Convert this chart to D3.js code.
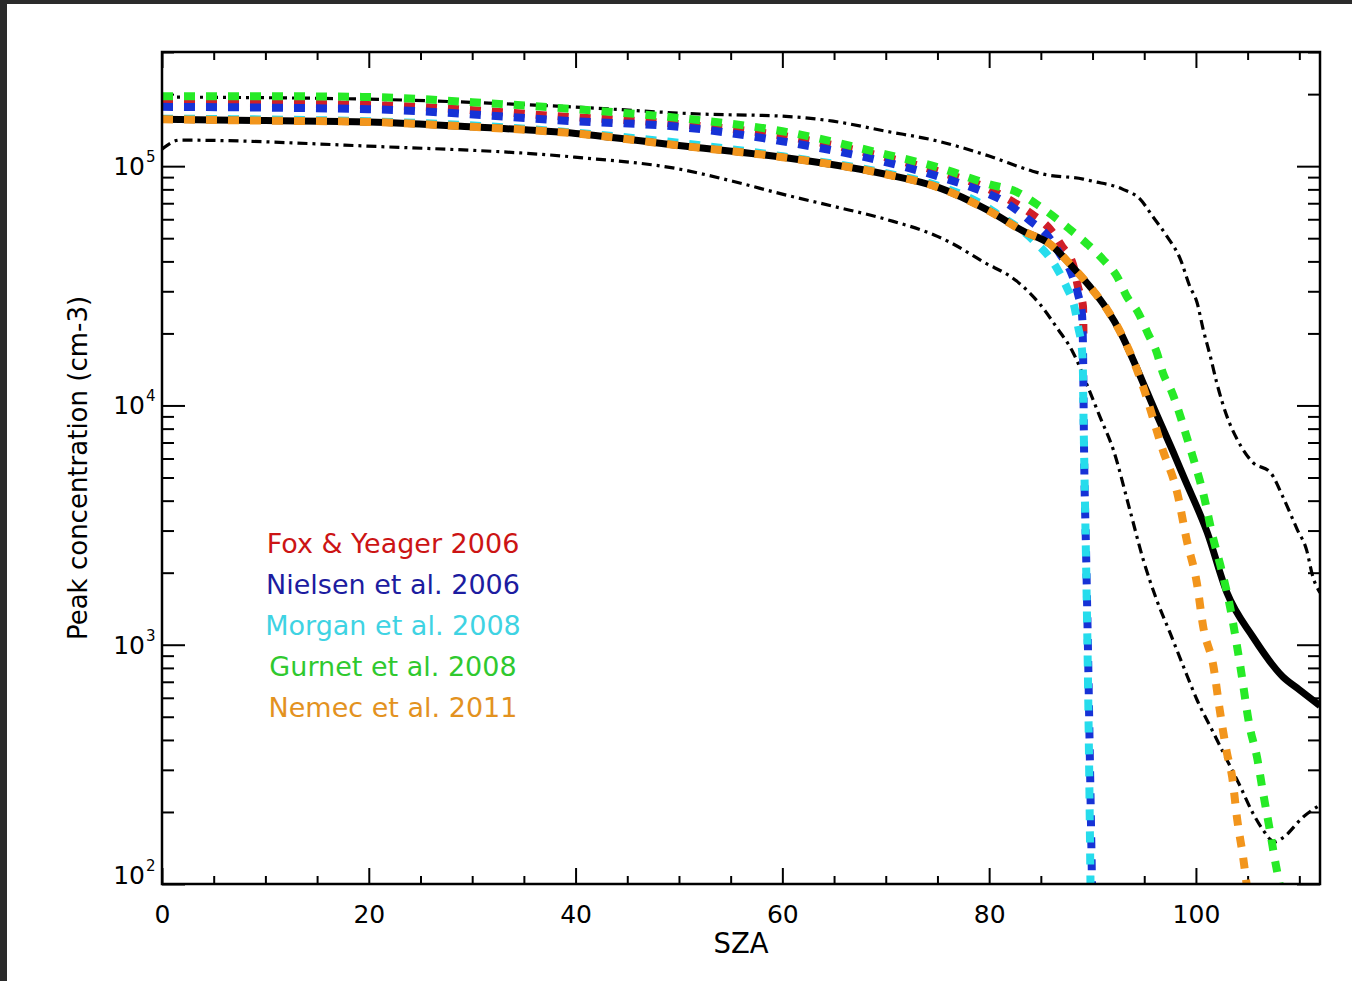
<!DOCTYPE html>
<html><head><meta charset="utf-8">
<script src="https://cdn.jsdelivr.net/npm/d3@7"></script>
<style>
body{margin:0;background:#2b2b2b;}
svg{display:block;}
text{font-family:"DejaVu Sans","Liberation Sans",sans-serif;fill:#000;}
</style>
</head><body>
<svg id="chart" width="1352" height="981"></svg>
<script>
// ---------------- data ----------------
const xMajorTicks = [0, 20, 40, 60, 80, 100];
const xMinorTicks = [5, 10, 15, 25, 30, 35, 45, 50, 55, 65, 70, 75, 85, 90, 95, 105, 110];
const yDecadeTicks = [100, 1000, 10000, 100000];
const yDecadeExponents = ["2", "3", "4", "5"];
const xTitle = "SZA";
const yTitle = "Peak concentration (cm-3)";

// upper envelope (dash-dot)
const szaUpper = [0,20,40,52,60,64.9,70,75,80,84.2,85.2,89.1,90,92.9,94.6,95.8,97.2,98.5,99.4,100.1,100.7,101.4,102,103,104,105.5,107.2,108.4,109.8,110.7,111.3,112];
const nUpper = [194500,190500,176600,165200,161800,154200,140000,127400,110200,95300,92700,88300,86500,80200,72800,61800,50900,40800,31500,27000,20800,16000,12500,9000,7200,5780,5250,4160,3030,2490,1930,1650];

// lower envelope (dash-dot)
const szaLower = [0,1.7,19.9,39.9,50.1,55.2,60,64.9,70,75,76.2,79.4,82.7,84.9,86.6,88.1,89.5,90.7,92.0,93.6,94.9,96.2,97.5,98.8,100.1,101.7,103.0,104.3,105.5,106.5,107.6,108.4,110.4,112];
const nLower = [117800,128500,121300,109100,97100,86500,76400,68000,60000,50900,48100,39900,33000,26500,21000,16700,12100,9000,6550,3670,2270,1540,1120,809,589,428,330,255,198,168,150,156,191,214];

// observed median (solid black)
const szaMedian = [0,10,20,30,40,50,60,70,75,80,83.3,85.9,88.1,89.8,91.4,92.7,93.9,95.3,96.0,98.0,98.8,101.1,103.0,105.5,108.4,110.0,112];
const nMedian = [157000,155000,153000,146000,137000,122000,109000,92500,81700,65000,53500,47200,37800,31200,25200,20200,15600,11300,9600,6100,5050,2940,1650,1080,735,649,556];

// Fox & Yeager 2006
const szaFox = [0,20,40,50,60,70,75,80,82.7,84.15,85.9,87.05,88.1,88.6,89.08,89.12];
const nFox = [184000,180000,160000,150000,134000,109000,95300,80200,69300,63000,54500,46200,38900,31200,25900,20000];

// Nielsen et al. 2006
const szaNielsen = [0,20,40,50,60,70,75,80,81.05,84.0,85.7,86.85,88.0,88.6,88.98,89.08,89.13,89.18,89.37,89.56,89.76,89.95];
const nNielsen = [177000,173000,154000,146000,127000,104000,90800,76400,72800,58900,50900,42900,35300,29100,24000,17100,10600,6550,2500,953,300,100];

// Morgan et al. 2008
const szaMorgan = [0,20,40,60,70,75,80,80.8,83.95,86.6,87.5,88.3,88.6,89.0,89.08,89.1,89.18,89.37,89.56,89.71,89.8];
const nMorgan = [158000,154000,138000,110000,93500,83000,66500,63000,50500,37100,31200,25200,21400,16700,13200,10900,6550,2270,714,224,100];

// Gurnet et al. 2008
const szaGurnet = [0,10,20,30,40,50,60,70,75,80,82.7,84.6,87.8,89.5,91.0,92.4,93.3,94.4,95.4,96.2,96.8,97.7,98.5,99.1,99.7,100.7,101.7,102.3,103.3,104.3,105.2,105.9,106.5,107.2,107.7,108.1];
const nGurnet = [196000,196000,194600,185000,173000,159000,140000,112000,99000,84000,77900,69300,54500,47200,40800,34400,28600,24500,19800,16700,13700,11300,9000,7400,6100,4300,2750,2200,1440,809,454,340,240,163,122,100];

// Nemec et al. 2011
const szaNemec = [0,10,20,30,40,50,60,70,75,80,83.3,85.9,88.1,89.8,91.4,92.7,93.9,94.8,96.8,98.2,99.1,100.1,100.7,101.7,102.3,103.0,103.5,104.0,104.6,104.9];
const nNemec = [157000,155000,153000,146000,137000,122000,109000,92500,81700,65000,53500,47200,37800,31200,25200,20200,15600,12300,6500,4300,2750,1800,1190,809,535,353,281,185,126,100];

const legendNames = ["Fox & Yeager 2006","Nielsen et al. 2006","Morgan et al. 2008","Gurnet et al. 2008","Nemec et al. 2011"];
const legendColors = ["#cc1414","#1c1ca0","#3fd3e3","#2fc92f","#e3921f"];
const lineColors = { fox:"#d01e28", nielsen:"#1632d6", morgan:"#26dcec", gurnet:"#26ea26", nemec:"#f2951c" };

// ---------------- layout ----------------
const svg = d3.select("#chart");
const L = 162, R = 1320, T = 52, B = 884;

svg.append("rect").attr("x",0).attr("y",0).attr("width",1352).attr("height",981).attr("fill","#2b2b2b");
svg.append("rect").attr("x",7).attr("y",4).attr("width",1345).attr("height",977).attr("fill","#ffffff");

const x = d3.scaleLinear().domain([0,112]).range([L,R]);
const y = d3.scaleLog().domain([100,3e5]).range([B,T]);

svg.append("defs").append("clipPath").attr("id","plotclip")
  .append("rect").attr("x",L).attr("y",T).attr("width",R-L).attr("height",B-T);

const yMinor = [];
yDecadeTicks.forEach(d => { for (let k=2;k<=9;k++){ const v=d*k; if (v<=3e5) yMinor.push(v);} });

function styleAxis(g){
  g.select(".domain").remove();
  g.selectAll(".tick line").attr("stroke","#000").attr("stroke-width",2);
}

// bottom
svg.append("g").attr("transform",`translate(0,${B})`)
  .call(d3.axisBottom(x).tickValues(xMinorTicks).tickSizeInner(-8).tickSizeOuter(0).tickFormat(""))
  .call(styleAxis);
const bx = svg.append("g").attr("transform",`translate(0,${B})`)
  .call(d3.axisBottom(x).tickValues(xMajorTicks).tickSizeInner(-16).tickSizeOuter(0).tickPadding(21).tickFormat(d3.format("d")))
  .call(styleAxis);
bx.selectAll(".tick text").attr("font-size",25).attr("font-family","DejaVu Sans").attr("fill","#000");

// top
svg.append("g").attr("transform",`translate(0,${T})`)
  .call(d3.axisTop(x).tickValues(xMinorTicks).tickSizeInner(-8).tickSizeOuter(0).tickFormat(""))
  .call(styleAxis);
svg.append("g").attr("transform",`translate(0,${T})`)
  .call(d3.axisTop(x).tickValues(xMajorTicks).tickSizeInner(-16).tickSizeOuter(0).tickFormat(""))
  .call(styleAxis);

// left
svg.append("g").attr("transform",`translate(${L},0)`)
  .call(d3.axisLeft(y).tickValues(yMinor).tickSizeInner(-12).tickSizeOuter(0).tickFormat(""))
  .call(styleAxis);
svg.append("g").attr("transform",`translate(${L},0)`)
  .call(d3.axisLeft(y).tickValues(yDecadeTicks).tickSizeInner(-23).tickSizeOuter(0).tickFormat(""))
  .call(styleAxis);
// right
svg.append("g").attr("transform",`translate(${R},0)`)
  .call(d3.axisRight(y).tickValues(yMinor).tickSizeInner(-12).tickSizeOuter(0).tickFormat(""))
  .call(styleAxis);
svg.append("g").attr("transform",`translate(${R},0)`)
  .call(d3.axisRight(y).tickValues(yDecadeTicks).tickSizeInner(-23).tickSizeOuter(0).tickFormat(""))
  .call(styleAxis);

// y tick labels with superscript exponents
yDecadeTicks.forEach((v,i) => {
  const yy = Math.min(y(v), B-9);
  svg.append("text").attr("x",L-17).attr("y",yy+9).attr("text-anchor","end")
    .attr("font-size",25).text("10");
  svg.append("text").attr("x",L-16).attr("y",yy-4).attr("text-anchor","start")
    .attr("font-size",15).text(yDecadeExponents[i]);
});

// titles
svg.append("text").attr("x",(L+R)/2).attr("y",953).attr("text-anchor","middle")
  .attr("font-size",27.5).text(xTitle);
svg.append("text").attr("transform",`translate(87,${(T+B)/2}) rotate(-90)`).attr("text-anchor","middle")
  .attr("font-size",26).text(yTitle);

// ---------------- lines ----------------
const plot = svg.append("g").attr("clip-path","url(#plotclip)");
const line = d3.line().x(d=>x(d[0])).y(d=>y(d[1])).curve(d3.curveMonotoneX);
const zip = (a,b) => a.map((v,i)=>[v,b[i]]);

function draw(data, color, width, dash){
  const p = plot.append("path").datum(data).attr("d",line)
    .attr("fill","none").attr("stroke",color).attr("stroke-width",width)
    .attr("stroke-linejoin","round");
  if (dash) p.attr("stroke-dasharray",dash);
  return p;
}

draw(zip(szaUpper,nUpper), "#000", 3.2, "10,5,3,5");
draw(zip(szaLower,nLower), "#000", 3.2, "10,5,3,5");
draw(zip(szaFox,nFox), lineColors.fox, 8, "11,11");
draw(zip(szaNielsen,nNielsen), lineColors.nielsen, 8, "11,11");
draw(zip(szaMorgan,nMorgan), lineColors.morgan, 8, "11,11");
draw(zip(szaMedian,nMedian), "#000", 7, null);
draw(zip(szaGurnet,nGurnet), lineColors.gurnet, 8, "11,11");
draw(zip(szaNemec,nNemec), lineColors.nemec, 8, "11,11");

// frame
svg.append("rect").attr("x",L).attr("y",T).attr("width",R-L).attr("height",B-T)
  .attr("fill","none").attr("stroke","#000").attr("stroke-width",2.5);

// ---------------- legend ----------------
legendNames.forEach((name,i) => {
  svg.append("text").attr("x",393).attr("y",553 + i*41).attr("text-anchor","middle")
    .attr("font-size",27).style("fill",legendColors[i]).text(name);
});
</script>
</body></html>
